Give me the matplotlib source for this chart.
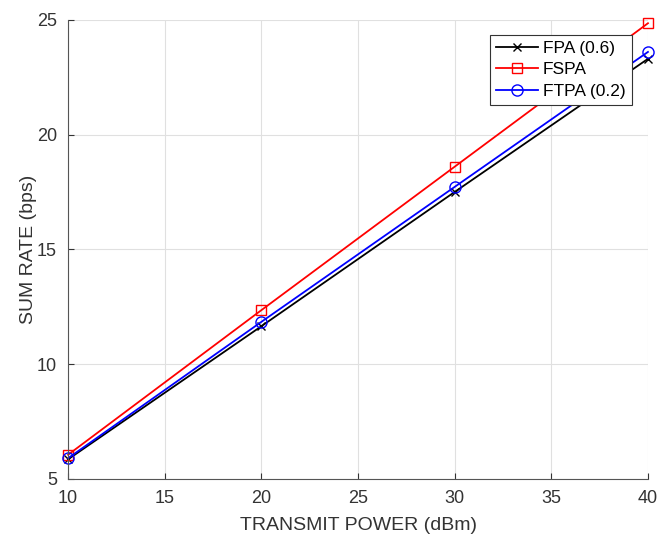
import matplotlib
matplotlib.use("Agg")
import matplotlib.pyplot as plt

plt.rcParams['font.family'] = ['Liberation Sans', 'DejaVu Sans']

power_dbm = [10, 20, 30, 40]
fpa_rate = [5.85, 11.65, 17.5, 23.3]
fspa_rate = [6.05, 12.35, 18.6, 24.85]
ftpa_rate = [5.9, 11.84, 17.72, 23.6]

fig = plt.figure(figsize=(6.68, 5.35), dpi=100)
ax = fig.add_axes([0.102, 0.105, 0.868, 0.858])

ax.plot(power_dbm, fpa_rate, color='black', marker='x', markersize=6, lw=1.3, label='FPA (0.6)', clip_on=False)
ax.plot(power_dbm, fspa_rate, color='red', marker='s', markersize=6.5, mfc='none', lw=1.3, label='FSPA', clip_on=False)
ax.plot(power_dbm, ftpa_rate, color='blue', marker='o', markersize=8, mfc='none', lw=1.3, label='FTPA (0.2)', clip_on=False)

ax.set_xlim(10, 40)
ax.set_ylim(5, 25)
ax.set_xticks([10, 15, 20, 25, 30, 35, 40])
ax.set_yticks([5, 10, 15, 20, 25])
ax.grid(True, color='#e0e0e0', lw=0.8)
ax.set_axisbelow(True)
for s in ['top', 'right']:
    ax.spines[s].set_visible(False)
for s in ['left', 'bottom']:
    ax.spines[s].set_color('#555555')
ax.tick_params(direction='in', colors='#333333', labelsize=13, length=4, pad=8)

ax.set_xlabel('TRANSMIT POWER (dBm)', fontsize=14, color='#333333', labelpad=7)
ax.set_ylabel('SUM RATE (bps)', fontsize=14, color='#333333', labelpad=0)

leg = ax.legend(loc='upper right', bbox_to_anchor=(0.972, 0.967), fontsize=12.5,
                frameon=True, fancybox=False, edgecolor='#333333', framealpha=1,
                handlelength=2.4, borderpad=0.35, labelspacing=0.35, handletextpad=0.3,
                borderaxespad=0)
leg.get_frame().set_linewidth(0.8)

fig.savefig('out.png', dpi=100)
